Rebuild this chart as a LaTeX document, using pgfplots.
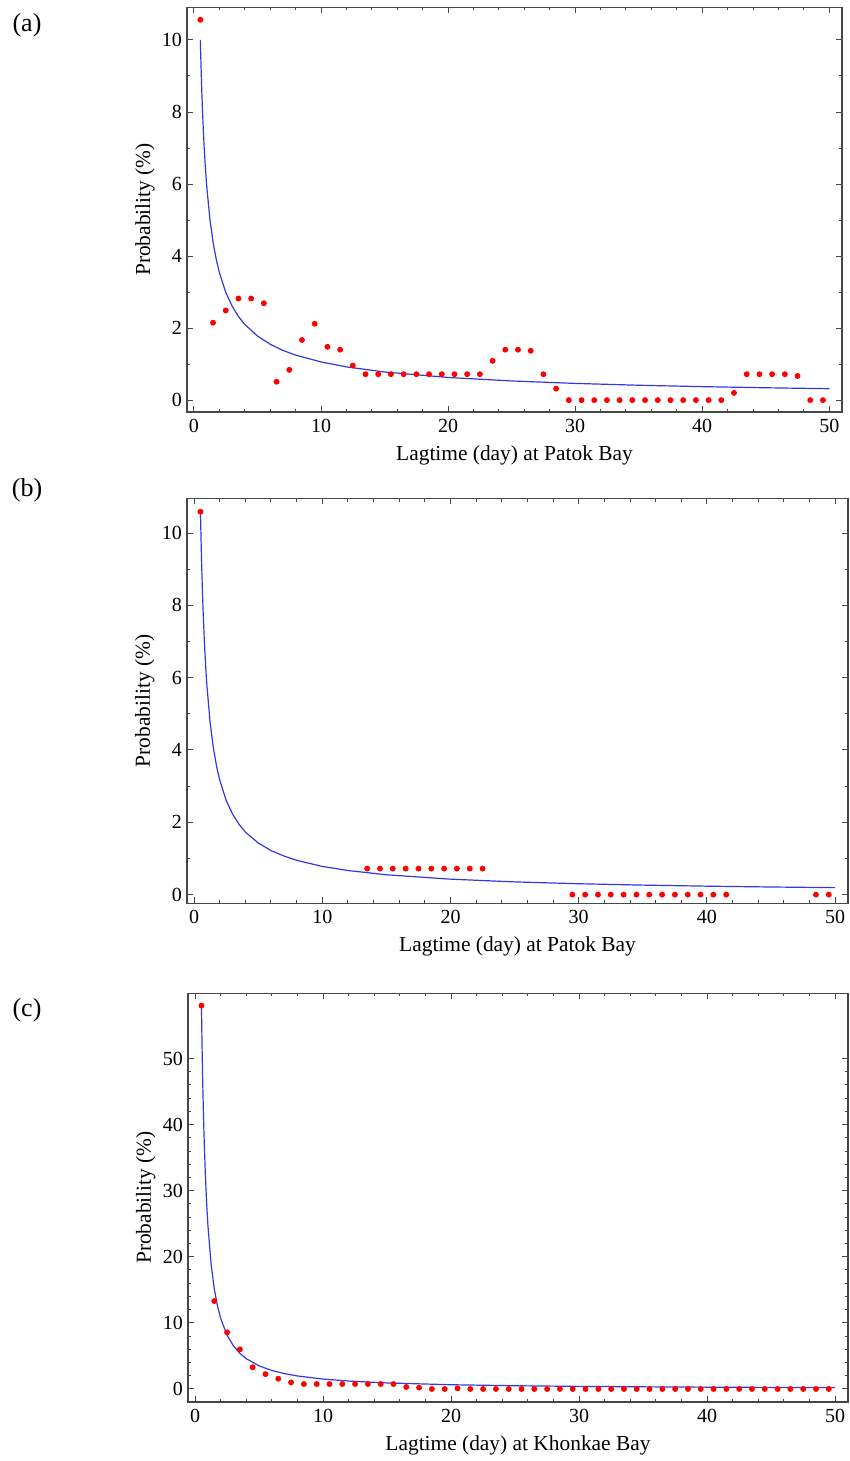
\documentclass[border=0pt]{standalone}
\usepackage{fontspec}
\setmainfont{Liberation Serif}
\usepackage{pgfplots}
\pgfplotsset{compat=1.18}

\definecolor{fitblue}{RGB}{55,55,225}
\definecolor{framegray}{RGB}{70,70,70}

\pgfplotsset{
  lagpanel/.style={
    scale only axis,
    axis line style={framegray, line width=0.6pt},
    tick style={framegray, line width=0.5pt},
    tick align=inside,
    major tick length=3pt,
    minor tick length=1.6pt,
    xtick={0,10,...,50},
    minor x tick num=4,
    xmin=-0.55, xmax=51,
    /pgf/number format/assume math mode=true,
    ticklabel style={font=\fontsize{10}{12}\selectfont},
    label style={font=\fontsize{10.7}{12}\selectfont},
    xlabel style={at={(axis description cs:0.5,0)}, anchor=center, yshift=-21.5pt},
    ylabel style={at={(axis description cs:-0.064,0.5)}, anchor=center},
    ylabel={Probability (\%)},
    yticklabel style={xshift=1pt},
  },
  dots/.style={only marks, mark=*, mark size=1.25pt, color=red},
  fit/.style={no marks, color=fitblue, line width=0.6pt},
}

\begin{document}
\begin{tikzpicture}
\useasboundingbox (0,0) rectangle (425pt,-730.5pt);

\node[font=\fontsize{13}{14}\selectfont] at (13.5pt,-12.5pt) {(a)};
\node[font=\fontsize{13}{14}\selectfont] at (13.5pt,-245pt) {(b)};
\node[font=\fontsize{13}{14}\selectfont] at (13.5pt,-505pt) {(c)};

% (a)
\begin{axis}[lagpanel,
  at={(93.5pt,-206pt)}, anchor=south west,
  width=327.5pt, height=202.4pt,
  ymin=-0.33, ymax=10.91,
  ytick={0,2,...,10}, minor y tick num=1,
  xlabel={Lagtime (day) at Patok Bay}]
\addplot[fit] coordinates {
(0.5,10.0) (0.55,9.32) (0.6,8.73) (0.65,8.22) (0.7,7.77) (0.8,7.03) (0.9,6.44)
(1.0,5.95) (1.25,5.03) (1.5,4.39) (1.75,3.91) (2,3.54) (2.5,2.99) (3,2.61)
(3.5,2.32) (4,2.10) (5,1.78) (6,1.55) (7,1.38) (8,1.25) (10,1.06) (12,0.923)
(15,0.781) (20,0.629) (25,0.532) (30,0.464) (35,0.413) (40,0.374) (45,0.343) (50,0.317)
};
\addplot[dots] coordinates {
(0.5,10.56) (1.5,2.15) (2.5,2.49) (3.5,2.82) (4.5,2.82) (5.5,2.69) (6.5,0.51)
(7.5,0.84) (8.5,1.67) (9.5,2.12) (10.5,1.48) (11.5,1.40) (12.5,0.96)
(13.5,0.72) (14.5,0.72) (15.5,0.72) (16.5,0.72) (17.5,0.72) (18.5,0.72)
(19.5,0.72) (20.5,0.72) (21.5,0.72) (22.5,0.72) (23.5,1.09) (24.5,1.40)
(25.5,1.40) (26.5,1.37) (27.5,0.72) (28.5,0.32) (29.5,0) (30.5,0) (31.5,0)
(32.5,0) (33.5,0) (34.5,0) (35.5,0) (36.5,0) (37.5,0) (38.5,0) (39.5,0)
(40.5,0) (41.5,0) (42.5,0.20) (43.5,0.72) (44.5,0.72) (45.5,0.72) (46.5,0.72)
(47.5,0.67) (48.5,0) (49.5,0)
};
\end{axis}

% (b)
\begin{axis}[lagpanel,
  at={(93.5pt,-451.65pt)}, anchor=south west,
  width=330.5pt, height=202.5pt,
  ymin=-0.24, ymax=10.96,
  ytick={0,2,...,10}, minor y tick num=1,
  xlabel={Lagtime (day) at Patok Bay}]
\addplot[fit] coordinates {
(0.5,10.59) (0.55,9.75) (0.6,9.04) (0.65,8.43) (0.7,7.90) (0.8,7.04) (0.9,6.35)
(1.0,5.79) (1.25,4.77) (1.5,4.07) (1.75,3.56) (2,3.17) (2.5,2.61) (3,2.23)
(3.5,1.95) (4,1.73) (5,1.43) (6,1.22) (7,1.07) (8,0.949) (10,0.78) (12,0.667)
(15,0.549) (20,0.428) (25,0.352) (30,0.301) (35,0.263) (40,0.234) (45,0.211) (50,0.193)
};
\addplot[dots] coordinates {
(0.5,10.59)
(13.5,0.72) (14.5,0.72) (15.5,0.72) (16.5,0.72) (17.5,0.72) (18.5,0.72)
(19.5,0.72) (20.5,0.72) (21.5,0.72) (22.5,0.72)
(29.5,0) (30.5,0) (31.5,0) (32.5,0) (33.5,0) (34.5,0) (35.5,0) (36.5,0)
(37.5,0) (38.5,0) (39.5,0) (40.5,0) (41.5,0) (48.5,0) (49.5,0)
};
\end{axis}

% (c)
\begin{axis}[lagpanel,
  at={(94pt,-701pt)}, anchor=south west,
  width=330pt, height=204.4pt,
  ymin=-1.97, ymax=59.87,
  ytick={0,10,...,50}, minor y tick num=4,
  xlabel={Lagtime (day) at Khonkae Bay}]
\addplot[fit] coordinates {
(0.5,58.0) (0.55,51.6) (0.6,46.4) (0.65,42.1) (0.7,38.5) (0.8,32.7) (0.9,28.3)
(1.0,24.9) (1.25,18.97) (1.5,15.18) (1.75,12.58) (2,10.69) (2.5,8.14) (3,6.52)
(3.5,5.40) (4,4.59) (5,3.50) (6,2.80) (7,2.32) (8,1.97) (10,1.50) (12,1.20)
(15,0.915) (20,0.644) (25,0.491) (30,0.393) (35,0.326) (40,0.277) (45,0.240) (50,0.211)
};
\addplot[dots] coordinates {
(0.5,58.0) (1.5,13.3) (2.5,8.57) (3.5,6.0) (4.5,3.3) (5.5,2.25) (6.5,1.55)
(7.5,1.0) (8.5,0.75) (9.5,0.75) (10.5,0.75) (11.5,0.75) (12.5,0.75) (13.5,0.75)
(14.5,0.75) (15.5,0.75) (16.5,0.3) (17.5,0.2) (18.5,0) (19.5,0) (20.5,0.1)
(21.5,0) (22.5,0) (23.5,0) (24.5,0) (25.5,0) (26.5,0) (27.5,0) (28.5,0)
(29.5,0) (30.5,0) (31.5,0) (32.5,0) (33.5,0) (34.5,0) (35.5,0) (36.5,0)
(37.5,0) (38.5,0) (39.5,0) (40.5,0) (41.5,0) (42.5,0) (43.5,0) (44.5,0)
(45.5,0) (46.5,0) (47.5,0) (48.5,0) (49.5,0)
};
\end{axis}
\end{tikzpicture}
\end{document}
